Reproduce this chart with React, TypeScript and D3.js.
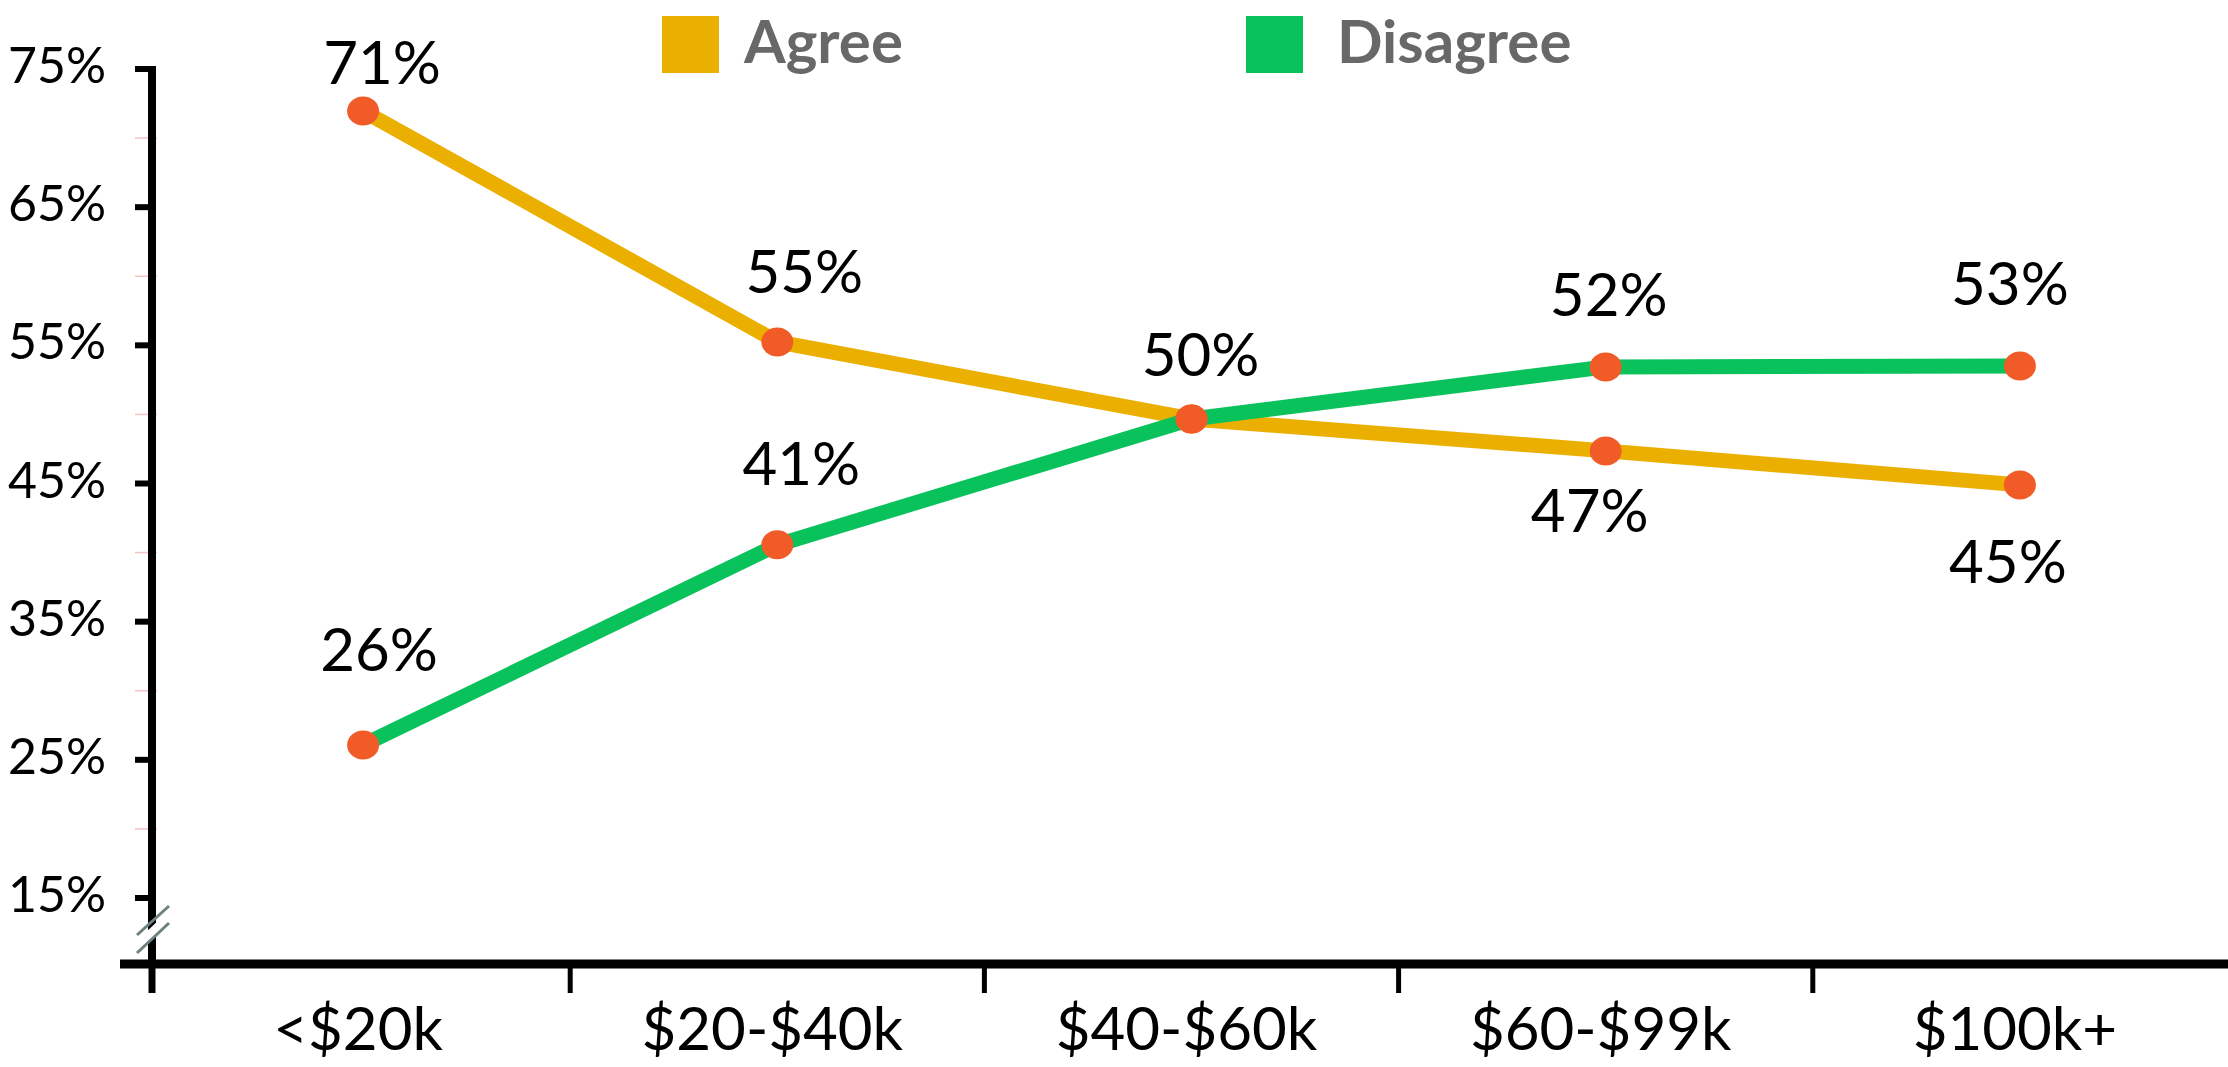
import React, { useEffect } from "react";
import * as d3 from "d3";

// ---- data ----
const categories = ["<$20k", "$20-$40k", "$40-$60k", "$60-$99k", "$100k+"];
const agreeValues = [71.96, 55.25, 49.67, 47.36, 44.9];
const disagreeValues = [26.08, 40.56, 49.67, 53.44, 53.5];
const agreeLabels = [71, 55, 50, 47, 45];
const disagreeLabels = [26, 41, 50, 52, 53];
const yTicks = [15, 25, 35, 45, 55, 65, 75];
const yMinorTicks = [20, 30, 40, 50, 60, 70];
const seriesNames = ["Agree", "Disagree"];

// ---- layout (offsets of value labels from their points) ----
const agreeLabelOffsets: ([number, number] | null)[] = [
  [19, -27],
  [27, -49],
  [9, -43],
  [-16, 81],
  [-12, 98],
];
const disagreeLabelOffsets: ([number, number] | null)[] = [
  [16, -74],
  [24, -60],
  null,
  [3, -51],
  [-10, -61],
];

const W = 2228;
const H = 1067;
const AGREE = "#EBAF00";
const DISAGREE = "#0AC25C";
const DOT = "#F15B28";
const FONT = "Lato, 'Open Sans', sans-serif";

export default function App() {
  useEffect(() => {
    document.body.style.margin = "0";
  }, []);

  const axisX = 152;
  const axisBottom = 964;
  const y = d3.scaleLinear().domain([15, 75]).range([898, 69]);
  const x = d3.scaleBand<string>().domain(categories).range([156, 2227]).padding(0);
  const cx = (c: string) => (x(c) as number) + x.bandwidth() / 2;

  const line = d3
    .line<number>()
    .x((_, i) => cx(categories[i]))
    .y((v) => y(v));

  const series = [
    { name: seriesNames[0], values: agreeValues, labels: agreeLabels, offsets: agreeLabelOffsets, color: AGREE },
    { name: seriesNames[1], values: disagreeValues, labels: disagreeLabels, offsets: disagreeLabelOffsets, color: DISAGREE },
  ];

  const xTickPositions = categories.slice(1).map((c) => x(c) as number);

  return (
    <svg width={W} height={H} style={{ display: "block", background: "#fff" }} fontFamily={FONT}>
      {/* legend */}
      <g>
        <rect x={662} y={16} width={57} height={57} fill={AGREE} />
        <text x={744} y={63} fontSize={60} fontWeight={700} fill="#686868">
          {seriesNames[0]}
        </text>
        <rect x={1246} y={16} width={57} height={57} fill={DISAGREE} />
        <text x={1337} y={63} fontSize={60} fontWeight={700} fill="#686868">
          {seriesNames[1]}
        </text>
      </g>

      {/* y minor ticks */}
      {yMinorTicks.map((t) => (
        <line key={"m" + t} x1={135} x2={157} y1={y(t)} y2={y(t)} stroke="#f2c4c4" strokeWidth={1.5} />
      ))}
      {/* y axis */}
      <line x1={axisX} x2={axisX} y1={y(75) - 3} y2={axisBottom} stroke="#000" strokeWidth={8} />
      {yTicks.map((t) => (
        <g key={"t" + t}>
          <line x1={135} x2={156} y1={y(t)} y2={y(t)} stroke="#000" strokeWidth={6} />
          <text x={106} y={y(t) + 14} textAnchor="end" fontSize={50} fill="#000">
            {t}%
          </text>
        </g>
      ))}

      {/* axis break */}
      <polygon points="144,934 162,917 162,929 144,946" fill="#fff" />
      <line x1={137} y1={935} x2={169} y2={906} stroke="#6e8080" strokeWidth={3} />
      <line x1={137} y1={953} x2={169} y2={923} stroke="#6e8080" strokeWidth={3} />

      {/* x axis */}
      <line x1={120} x2={W} y1={axisBottom} y2={axisBottom} stroke="#000" strokeWidth={9} />
      <line x1={axisX} x2={axisX} y1={axisBottom} y2={993} stroke="#000" strokeWidth={7} />
      {xTickPositions.map((p, i) => (
        <line key={"xt" + i} x1={p} x2={p} y1={axisBottom} y2={993} stroke="#000" strokeWidth={5} />
      ))}
      {categories.map((c) => (
        <text key={c} x={cx(c) - 5} y={1050} textAnchor="middle" fontSize={60} fill="#000">
          {c}
        </text>
      ))}

      {/* lines */}
      {series.map((s) => (
        <path
          key={s.name}
          d={line(s.values) as string}
          fill="none"
          stroke={s.color}
          strokeWidth={15}
          strokeLinejoin="round"
        />
      ))}

      {/* dots */}
      {series.map((s) =>
        s.values.map((v, i) => (
          <ellipse key={s.name + "d" + i} cx={cx(categories[i])} cy={y(v)} rx={16} ry={14.5} fill={DOT} />
        ))
      )}

      {/* value labels */}
      {series.map((s) =>
        s.values.map((v, i) => {
          const off = s.offsets[i];
          if (!off) return null;
          return (
            <text
              key={s.name + "l" + i}
              x={cx(categories[i]) + off[0]}
              y={y(v) + off[1]}
              textAnchor="middle"
              fontSize={60}
              fill="#000"
            >
              {s.labels[i]}%
            </text>
          );
        })
      )}
    </svg>
  );
}
